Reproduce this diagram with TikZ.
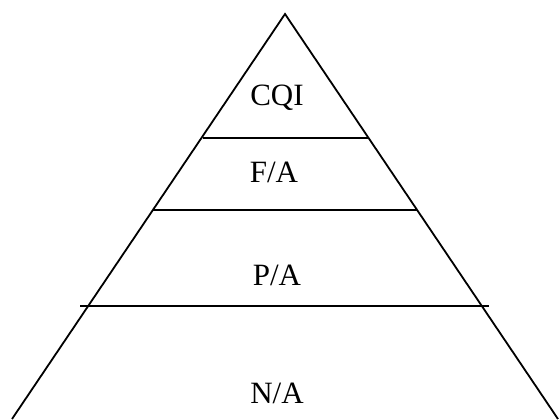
\documentclass[tikz,border=0pt]{standalone}
\usepackage{fontspec}
\setmainfont{Liberation Serif}
\usetikzlibrary{positioning,calc}
\definecolor{pyrink}{HTML}{000000}
\tikzset{
  edge/.style={draw=pyrink, line width=0.9pt, line join=miter},
  tier/.style={draw=pyrink, line width=0.9pt},
  lvl/.style={font=\fontsize{15.5}{18}\selectfont, text=pyrink, inner sep=1pt},
}
\begin{document}
\begin{tikzpicture}[x=0.5pt,y=-0.5pt]
    \useasboundingbox (0,0) rectangle (560,419);
    % outline of the pyramid
    \coordinate (apex) at (285,14);
    \coordinate (bl) at (12,419);
    \coordinate (br) at (558,419);
    \draw[edge] (bl) -- (apex) -- (br);
    % tier separators
    \foreach \n/\y/\xa/\xb in {1/138/203/368, 2/210/153/417, 3/306/80/489}
    {
      \coordinate (s\n l) at (\xa,\y);
      \coordinate (s\n r) at (\xb,\y);
      \draw[tier] (s\n l) -- (s\n r);
    }
    % labels
    \foreach \n/\x/\y/\ti in {cqi/277/98/{CQI}, fa/274/172/{F/A}, pa/277/275/{P/A}, na/277/393/{N/A}}
    {
      \node[lvl] (\n) at (\x,\y) {\ti};
    }
  \end{tikzpicture}
\end{document}
